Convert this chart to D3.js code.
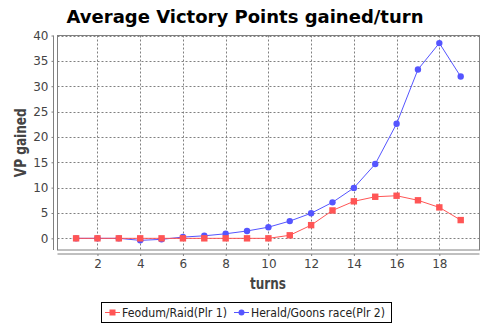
<!DOCTYPE html>
<html>
<head>
<meta charset="utf-8">
<script src="https://cdn.jsdelivr.net/npm/d3@7"></script>
<style>
  body { margin: 0; background: #fff; }
  text { font-family: "DejaVu Sans", sans-serif; }
</style>
</head>
<body>
<svg id="chart" width="491" height="324"></svg>
<script>
// Turn numbers and per-turn average VP for each player
const turns = [1, 2, 3, 4, 5, 6, 7, 8, 9, 10, 11, 12, 13, 14, 15, 16, 17, 18, 19];
const feodumRaid = [0, 0, 0, 0, 0, 0, 0, 0, 0, 0, 0.6, 2.6, 5.5, 7.3, 8.2, 8.4, 7.5, 6.1, 3.6];
const heraldGoons = [0, 0, 0, -0.4, -0.2, 0.25, 0.5, 0.9, 1.45, 2.2, 3.4, 4.95, 7.1, 9.95, 14.65, 22.6, 33.3, 38.5, 31.9];
const seriesNames = ["Feodum/Raid(Plr 1)", "Herald/Goons race(Plr 2)"];
const xTicks = [2, 4, 6, 8, 10, 12, 14, 16, 18];
const yTicks = [0, 5, 10, 15, 20, 25, 30, 35, 40];

const svg = d3.select("#chart");
const plot = { left: 57.5, right: 479.5, top: 35.5, bottom: 250 };

const x = d3.scaleLinear().domain([0.13, 19.88]).range([plot.left, plot.right]);
const y = d3.scaleLinear().domain([-2.3, 40]).range([plot.bottom, plot.top]);

// Title
svg.append("text")
  .attr("x", 245).attr("y", 23)
  .attr("text-anchor", "middle")
  .attr("font-size", 18).attr("font-weight", "bold")
  .attr("textLength", 357).attr("lengthAdjust", "spacingAndGlyphs")
  .attr("fill", "#000")
  .text("Average Victory Points gained/turn");

// Plot background
svg.append("rect")
  .attr("x", plot.left).attr("y", plot.top)
  .attr("width", plot.right - plot.left).attr("height", plot.bottom - plot.top)
  .attr("fill", "#fff");

// Gridlines
const grid = svg.append("g").attr("stroke", "#808080").attr("stroke-width", 1)
  .attr("stroke-dasharray", "2,2");
xTicks.forEach(t => grid.append("line")
  .attr("x1", Math.round(x(t)) + 0.5).attr("x2", Math.round(x(t)) + 0.5)
  .attr("y1", plot.top).attr("y2", plot.bottom));
yTicks.forEach(t => grid.append("line")
  .attr("x1", plot.left).attr("x2", plot.right)
  .attr("y1", Math.round(y(t)) + 0.5).attr("y2", Math.round(y(t)) + 0.5));

// Plot border
svg.append("rect")
  .attr("x", plot.left).attr("y", plot.top)
  .attr("width", plot.right - plot.left).attr("height", plot.bottom - plot.top)
  .attr("fill", "none").attr("stroke", "#808080").attr("stroke-width", 1);

// Axes, offset slightly from the plot
const yAxis = d3.axisLeft(y).tickValues(yTicks).tickSize(2).tickPadding(3);
const xAxis = d3.axisBottom(x).tickValues(xTicks).tickSize(2).tickPadding(3);

const gy = svg.append("g").attr("transform", "translate(53.5,0)").call(yAxis);
const gx = svg.append("g").attr("transform", `translate(0,${plot.bottom + 4})`).call(xAxis);
[gy, gx].forEach(g => {
  g.select(".domain").attr("stroke", "#808080");
  g.selectAll(".tick line").attr("stroke", "#808080");
  g.selectAll(".tick text").attr("fill", "#444").attr("font-size", 12)
    .attr("font-family", "DejaVu Sans, sans-serif");
});
gy.select(".domain").attr("d", `M0,${plot.top}V${plot.bottom}`);
gx.select(".domain").attr("d", `M${plot.left},0H${plot.right}`);

// Axis titles
svg.append("text")
  .attr("transform", `translate(26,${(plot.top + plot.bottom) / 2}) rotate(-90)`)
  .attr("text-anchor", "middle")
  .attr("font-size", 15).attr("font-weight", 600).attr("fill", "#444")
  .attr("textLength", 69).attr("lengthAdjust", "spacingAndGlyphs")
  .text("VP gained");
svg.append("text")
  .attr("x", 268).attr("y", 289)
  .attr("text-anchor", "middle")
  .attr("font-size", 15).attr("font-weight", 600).attr("fill", "#444")
  .attr("textLength", 36).attr("lengthAdjust", "spacingAndGlyphs")
  .text("turns");

// Series
const colors = ["#FF5555", "#5555FF"];
const data = [feodumRaid, heraldGoons];
const line = d3.line().x((d, i) => x(turns[i])).y(d => y(d));

// Blue first so the red series sits on top along the flat start
[1, 0].forEach(s => {
  svg.append("path")
    .datum(data[s])
    .attr("d", line)
    .attr("fill", "none")
    .attr("stroke", colors[s])
    .attr("stroke-width", 1);
});
svg.append("g").selectAll("circle").data(heraldGoons).join("circle")
  .attr("cx", (d, i) => x(turns[i])).attr("cy", d => y(d))
  .attr("r", 3.2).attr("fill", colors[1]);
svg.append("g").selectAll("rect").data(feodumRaid).join("rect")
  .attr("x", (d, i) => x(turns[i]) - 3.2).attr("y", d => y(d) - 3.2)
  .attr("width", 6.4).attr("height", 6.4).attr("fill", colors[0]);

// Legend
const lg = svg.append("g");
lg.append("rect").attr("x", 101.5).attr("y", 302.5).attr("width", 290).attr("height", 20)
  .attr("fill", "#fff").attr("stroke", "#000").attr("stroke-width", 1);
// Feodum entry
lg.append("line").attr("x1", 105).attr("x2", 120).attr("y1", 312.5).attr("y2", 312.5)
  .attr("stroke", colors[0]);
lg.append("rect").attr("x", 109.5).attr("y", 309.5).attr("width", 6).attr("height", 6).attr("fill", colors[0]);
lg.append("text").attr("x", 122).attr("y", 317).attr("font-size", 12).attr("fill", "#222")
  .attr("textLength", 105).attr("lengthAdjust", "spacingAndGlyphs")
  .text(seriesNames[0]);
// Herald entry
lg.append("line").attr("x1", 234).attr("x2", 249).attr("y1", 312.5).attr("y2", 312.5)
  .attr("stroke", colors[1]);
lg.append("circle").attr("cx", 241.5).attr("cy", 312.5).attr("r", 3).attr("fill", colors[1]);
lg.append("text").attr("x", 251).attr("y", 317).attr("font-size", 12).attr("fill", "#222")
  .attr("textLength", 134).attr("lengthAdjust", "spacingAndGlyphs")
  .text(seriesNames[1]);
</script>
</body>
</html>
